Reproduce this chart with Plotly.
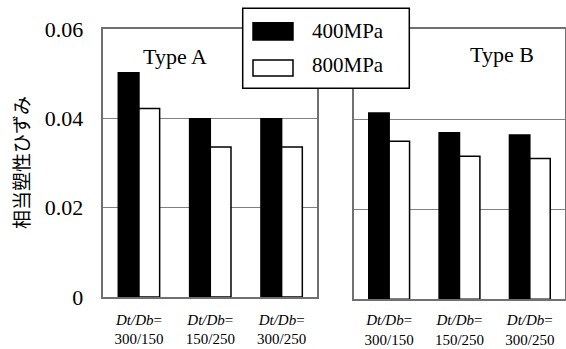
import plotly.graph_objects as go

categories = ["300/150", "150/250", "300/250"]
tick_labels = ["<i>Dt/Db</i>=<br>300/150", "<i>Dt/Db</i>=<br>150/250", "<i>Dt/Db</i>=<br>300/250"]
type_a_400 = [0.0502, 0.0399, 0.0399]
type_a_800 = [0.0422, 0.0336, 0.0336]
type_b_400 = [0.0414, 0.0370, 0.0365]
type_b_800 = [0.0351, 0.0318, 0.0313]
series_names = ["400MPa", "800MPa"]
panel_titles = ["Type A", "Type B"]
y_ticks = [0, 0.02, 0.04, 0.06]
y_tick_text = ["0", "0.02", "0.04", "0.06"]
y_title = "相当塑性ひずみ"

W, H = 566, 349
def px(x): return x / W
def py(y): return 1 - y / H

serif = "Liberation Serif, Times New Roman, serif"
fig = go.Figure()
fills = ["black", "white"]
for vals, ax, name_i in [(type_a_400, "1", 0), (type_a_800, "1", 1), (type_b_400, "2", 0), (type_b_800, "2", 1)]:
    fig.add_trace(go.Bar(
        x=categories, y=vals, name=series_names[name_i],
        marker=dict(color=fills[name_i], line=dict(color="black", width=1.5)),
        xaxis="x" if ax == "1" else "x2", yaxis="y" if ax == "1" else "y2",
        showlegend=False))

axis_common = dict(showline=True, mirror=True, linecolor="#707070", linewidth=1.5,
                   automargin=False, fixedrange=True)
xcommon = dict(axis_common, type="category", categoryorder="array", categoryarray=categories,
               tickvals=categories, ticktext=tick_labels, ticks="", showgrid=False,
               tickfont=dict(family=serif, size=15, color="black"))
ycommon = dict(axis_common, range=[0, 0.06], tickvals=y_ticks, showgrid=True,
               gridcolor="#808080", gridwidth=1, zeroline=False, ticks="")

fig.update_layout(
    width=W, height=H, margin=dict(l=0, r=0, t=0, b=0),
    paper_bgcolor="white", plot_bgcolor="white",
    barmode="group", bargap=0.42, bargroupgap=0,
    xaxis=dict(xcommon, domain=[px(103.3), px(317.3)], anchor="y", ticklabelstandoff=8),
    xaxis2=dict(xcommon, domain=[px(354), px(565)], anchor="y2", ticklabelstandoff=6),
    yaxis=dict(ycommon, domain=[py(297), py(29)], anchor="x", ticktext=y_tick_text,
               showticklabels=True, tickfont=dict(family=serif, size=22, color="black"),
               ticklabelstandoff=14),
    yaxis2=dict(ycommon, domain=[py(299.3), py(29.3)], anchor="x2", showticklabels=False),
    showlegend=False,
)

def ann(text, x, y, size, family=serif, xanchor="center", **kw):
    return dict(text=text, x=px(x), y=py(y), xref="paper", yref="paper",
                xanchor=xanchor, yanchor="middle", showarrow=False,
                font=dict(family=family, size=size, color="black"), **kw)

annotations = [
    ann(panel_titles[0], 174.7, 56, 22),
    ann(panel_titles[1], 501.7, 54, 22),
    ann(y_title, 21, 163, 19, family="Noto Sans CJK JP", textangle=-90),
    ann(series_names[0], 310, 31, 21, xanchor="left"),
    ann(series_names[1], 310, 65, 21, xanchor="left"),
]
fig.update_layout(annotations=annotations)

shapes = [
    dict(type="rect", xref="paper", yref="paper", x0=px(242.7), x1=px(409.3), y0=py(88.3), y1=py(8.3),
         fillcolor="white", line=dict(color="black", width=1.5), layer="above"),
    dict(type="rect", xref="paper", yref="paper", x0=px(253), x1=px(293), y0=py(40), y1=py(22.7),
         fillcolor="black", line=dict(color="black", width=1.5), layer="above"),
    dict(type="rect", xref="paper", yref="paper", x0=px(253), x1=px(293), y0=py(76), y1=py(60),
         fillcolor="white", line=dict(color="black", width=1.5), layer="above"),
]
fig.update_layout(shapes=shapes)

fig.write_html("out.html")
